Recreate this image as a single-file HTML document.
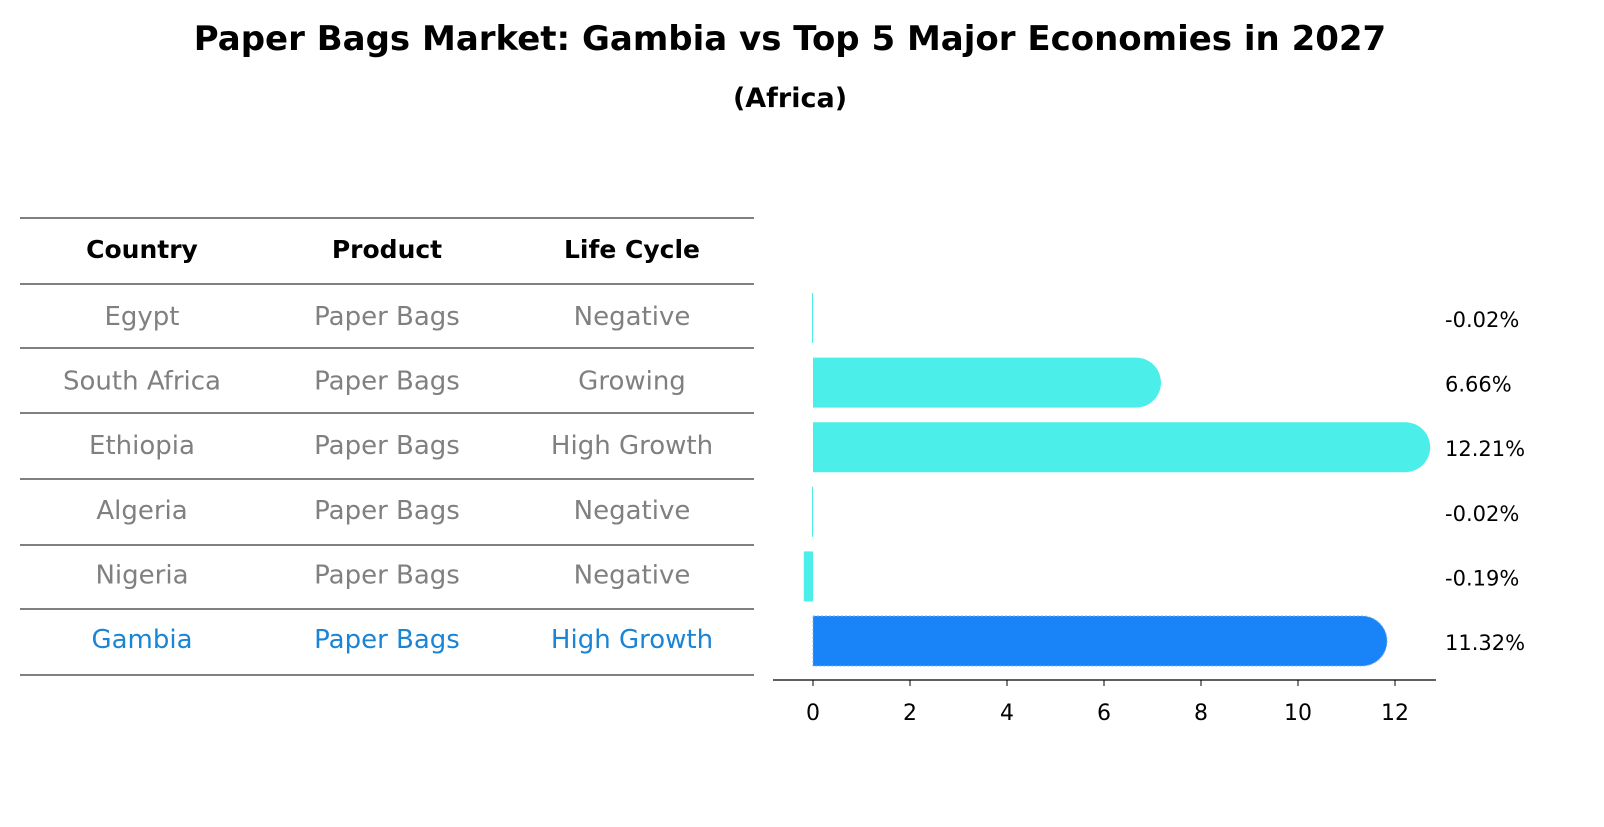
<!DOCTYPE html>
<html><head><meta charset="utf-8"><style>
body{margin:0;background:#fff;font-family:"DejaVu Sans","Liberation Sans",sans-serif}
</style></head><body>
<svg width="1604" height="823" xmlns="http://www.w3.org/2000/svg" font-family="DejaVu Sans, Liberation Sans, sans-serif">
<text x="790" y="50" text-anchor="middle" font-size="34" font-weight="bold">Paper Bags Market: Gambia vs Top 5 Major Economies in 2027</text>
<text x="790" y="107" text-anchor="middle" font-size="27" font-weight="bold">(Africa)</text>
<g id="table"></g>
<g id="bars"></g>
</svg>
<script>
const countries=["Egypt","South Africa","Ethiopia","Algeria","Nigeria","Gambia"];
const products=["Paper Bags","Paper Bags","Paper Bags","Paper Bags","Paper Bags","Paper Bags"];
const lifeCycles=["Negative","Growing","High Growth","Negative","Negative","High Growth"];
const values=[-0.02,6.66,12.21,-0.02,-0.19,11.32];
const valueLabels=["-0.02%","6.66%","12.21%","-0.02%","-0.19%","11.32%"];
const ticks=[0,2,4,6,8,10,12];
const NS="http://www.w3.org/2000/svg";
function mk(t,a,p){const e=document.createElementNS(NS,t);for(const k in a)e.setAttribute(k,a[k]);p.appendChild(e);return e;}
const tb=document.getElementById('table'),bg=document.getElementById('bars');
const lineYs=[218,284,348,413,479,545,609,675];
lineYs.forEach(y=>{const l=mk('line',{x1:20,x2:754,y1:y,y2:y,stroke:'#000','stroke-width':1},tb);

});
const cx=[142,387,632];
["Country","Product","Life Cycle"].forEach((h,i)=>{const t=mk('text',{x:cx[i],y:258,'text-anchor':'middle','font-size':25,'font-weight':'bold'},tb);t.textContent=h;

});
function rowY(i){return 316+i*64.6;}
countries.forEach((c,i)=>{const col=c==="Gambia"?'#1a85d6':'#808080';
[c,products[i],lifeCycles[i]].forEach((v,j)=>{const t=mk('text',{x:cx[j],y:rowY(i)+9,'text-anchor':'middle','font-size':26,fill:col},tb);t.textContent=v;

});});
function xs(v){return 813+v*48.5;}
const ax=mk('line',{x1:773,x2:1436,y1:680,y2:680,stroke:'#000','stroke-width':1.3},bg);


ticks.forEach(v=>{const l=mk('line',{x1:xs(v),x2:xs(v),y1:680,y2:686,stroke:'#000'},bg);


const t=mk('text',{x:xs(v),y:720,'text-anchor':'middle','font-size':22},bg);t.textContent=v;

});
const h=50,r=25;
values.forEach((v,i)=>{const y=rowY(i)+2-h/2;const col=countries[i]==="Gambia"?'#1884f7':'#4ceee9';
let e;
if(v>0.3){const x0=xs(0),x1=xs(v);
e=mk('path',{d:`M${x0},${y}H${x1}A${r},${r} 0 0 1 ${x1},${y+h}H${x0}Z`,fill:col},bg);
if(countries[i]==="Gambia")e.setAttribute('stroke','#7fb0e8'),e.setAttribute('stroke-dasharray','2,2');}
else{const a=Math.min(xs(v),xs(0)),w=Math.max(Math.abs(xs(v)-xs(0)),1);
e=mk('rect',{x:a,y:y,width:w,height:h,fill:col},bg);}


const t=mk('text',{x:1445,y:rowY(i)+11,'font-size':21},bg);t.textContent=valueLabels[i];

});
</script>
</body></html>
